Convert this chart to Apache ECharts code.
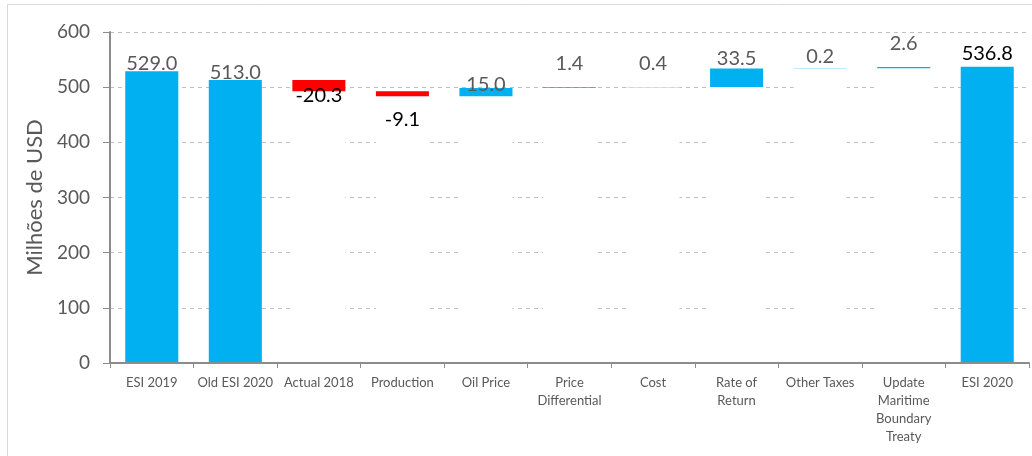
<!DOCTYPE html>
<html>
<head>
<meta charset="utf-8">
<script src="https://cdn.jsdelivr.net/npm/echarts@6/dist/echarts.min.js"></script>
<style>
  html, body { margin: 0; padding: 0; background: #fff; }
  #chart { width: 1032px; height: 456px; }
</style>
</head>
<body>
<div id="chart"></div>
<script>
const categories = [
  'ESI 2019', 'Old ESI 2020', 'Actual 2018', 'Production', 'Oil Price',
  'Price\nDifferential', 'Cost', 'Rate of\nReturn', 'Other Taxes',
  'Update\nMaritime\nBoundary\nTreaty', 'ESI 2020'
];
const values = [529.0, 513.0, -20.3, -9.1, 15.0, 1.4, 0.4, 33.5, 0.2, 2.6, 536.8];
const isTotal = [true, true, false, false, false, false, false, false, false, false, true];
const yTicks = [0, 100, 200, 300, 400, 500, 600];

// waterfall: invisible base + visible step
const base = [];
const step = [];
let running = 0;
values.forEach((v, i) => {
  if (isTotal[i]) {
    base.push(0); step.push(v); running = v;
  } else if (v >= 0) {
    base.push(running); step.push(v); running += v;
  } else {
    running += v; base.push(running); step.push(-v);
  }
});

// label distances (pixels) per bar, tuned to the picture
const labelGap = [-2, -3, -6, 13, -7, 14, 13, 0, 2, 13, 3];

let myChart = echarts.init(document.getElementById('chart'));
const font = 'Lato, "Open Sans", sans-serif';
const option = {
  animation: false,
  grid: { left: 110, right: 3, top: 32, bottom: 93 },
  graphic: [{
    type: 'rect',
    shape: { x: 7.5, y: 4.5, width: 1040, height: 470 },
    style: { fill: 'none', stroke: '#d9d9d9', lineWidth: 1 },
    silent: true
  }],
  xAxis: {
    type: 'category',
    data: categories,
    z: 10,
    axisLine: { lineStyle: { color: '#8c8c8c', width: 2 } },
    axisTick: { show: true, length: 5, lineStyle: { color: '#8c8c8c' } },
    axisLabel: {
      interval: 0, margin: 11, color: '#595959',
      fontFamily: font, fontSize: 13, lineHeight: 18
    }
  },
  yAxis: {
    type: 'value',
    min: 0, max: 600, interval: 100,
    name: 'Milhões de USD',
    nameLocation: 'middle',
    nameGap: 64,
    nameTextStyle: { color: '#595959', fontFamily: font, fontSize: 22 },
    axisLine: { show: true, lineStyle: { color: '#8c8c8c', width: 2 } },
    axisTick: { show: true, length: 7, lineStyle: { color: '#8c8c8c' } },
    axisLabel: {
      margin: 20, color: '#595959', fontFamily: font, fontSize: 19,
      formatter: v => yTicks.includes(v) ? String(v) : ''
    },
    splitLine: { lineStyle: { type: [4, 4], color: '#bfbfbf' } }
  },
  series: [
    {
      name: 'base',
      type: 'bar',
      stack: 'wf',
      barWidth: '63.5%',
      silent: true,
      itemStyle: { color: '#ffffff' },
      data: base
    },
    {
      name: 'step',
      type: 'bar',
      stack: 'wf',
      barWidth: '63.5%',
      data: step.map((s, i) => {
        const neg = values[i] < 0;
        const dark = neg || i === values.length - 1;
        return {
          value: s,
          itemStyle: { color: neg ? '#ff0000' : '#00b0f0' },
          label: {
            show: true,
            position: neg ? 'bottom' : 'top',
            distance: labelGap[i],
            formatter: values[i].toFixed(1),
            color: dark ? '#000000' : '#595959',
            fontFamily: font,
            fontSize: 20
          }
        };
      })
    }
  ]
};
myChart.setOption(option);
</script>
</body>
</html>
